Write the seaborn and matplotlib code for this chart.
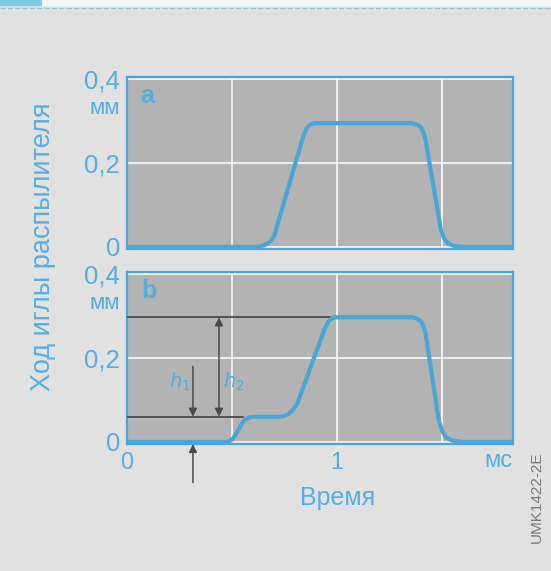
import numpy as np
import matplotlib
matplotlib.use("Agg")
import matplotlib.pyplot as plt
from matplotlib.lines import Line2D
import seaborn as sns

sns.set_theme(style="darkgrid")
plt.rcParams['font.family'] = ['Liberation Sans', 'DejaVu Sans']

BLUE = '#4aa6d6'
TXT = '#55afdc'
DARK = '#4a4a4a'

# curve a: normal injection, curve b: with pre-lift
time_a = [0, 0.60, 0.63, 0.655, 0.68, 0.70, 0.84, 0.855, 0.87, 0.89, 1.35, 1.38, 1.40, 1.41,
          1.42, 1.495, 1.51, 1.53, 1.56, 1.61, 1.84]
lift_a = [0, 0, 0.001, 0.004, 0.012, 0.025, 0.265, 0.282, 0.291, 0.295, 0.295, 0.292, 0.285,
          0.275, 0.26, 0.04, 0.02, 0.008, 0.002, 0, 0]

time_b = [0, 0.47, 0.49, 0.505, 0.52, 0.55, 0.565, 0.58, 0.60, 0.73, 0.75, 0.77, 0.79, 0.81,
          0.94, 0.955, 0.97, 0.99, 1.36, 1.38, 1.40, 1.41, 1.42, 1.485, 1.50, 1.52, 1.55, 1.60, 1.84]
lift_b = [0, 0, 0.002, 0.008, 0.02, 0.046, 0.054, 0.058, 0.06, 0.06, 0.062, 0.067, 0.076, 0.09,
          0.268, 0.284, 0.293, 0.297, 0.297, 0.294, 0.287, 0.278, 0.264, 0.05, 0.027, 0.01,
          0.003, 0, 0]

h1_level = 0.06
h2_level = 0.297
start_t = 0.314
h2_t = 0.438

yticks = [0, 0.2, 0.4]
ylabels = ['0', '0,2', '0,4']

fig = plt.figure(figsize=(5.51, 5.71), dpi=100, facecolor='#e1e1e1')
ax_a = fig.add_axes([0.2305, 0.5639, 0.7005, 0.3012])
ax_b = fig.add_axes([0.2305, 0.2224, 0.7005, 0.3012])

for ax, t, h in [(ax_a, time_a, lift_a), (ax_b, time_b, lift_b)]:
    ax.set_facecolor('#b3b3b3')
    sns.lineplot(x=t, y=h, ax=ax, color=BLUE, linewidth=3, estimator=None,
                 solid_joinstyle='round', solid_capstyle='round', zorder=5)
    ax.set_xlim(0, 1.838)
    ax.set_ylim(-0.005, 0.405)
    ax.set_xticks([0, 0.5, 1, 1.5])
    ax.set_yticks(yticks)
    ax.set_yticklabels(ylabels, color=TXT, fontsize=18.5)
    ax.tick_params(axis='y', length=0, pad=5)
    ax.tick_params(axis='x', length=0, pad=6)
    ax.grid(color='white', linewidth=1.1)
    for s in ax.spines.values():
        s.set_visible(True)
        s.set_color(BLUE)
        s.set_linewidth(1.6)
    ax.text(-0.033, 0.331, 'мм', transform=ax.transData, ha='right', va='center',
            color=TXT, fontsize=16)

ax_a.set_xticklabels([])
ax_b.set_xticklabels(['0', '', '1', ''], color=TXT, fontsize=17)
ax_a.text(0.065, 0.36, 'a', color=TXT, fontsize=18, fontweight='bold', va='center')
ax_b.text(0.07, 0.36, 'b', color=TXT, fontsize=18, fontweight='bold', va='center')

# reference levels and arrows on panel b
ax_b.plot([0, 0.967], [h2_level, h2_level], color=DARK, lw=1.3, zorder=3)
ax_b.plot([0, 0.55], [h1_level, h1_level], color=DARK, lw=1.3, zorder=3)
arw = dict(arrowstyle='-|>', color=DARK, lw=1.1, mutation_scale=12, shrinkA=0, shrinkB=0)
ax_b.annotate('', xy=(start_t, h1_level), xytext=(start_t, 0.18), arrowprops=arw)
ax_b.annotate('', xy=(h2_t, h1_level), xytext=(h2_t, h2_level),
              arrowprops=dict(arw, arrowstyle='<|-|>'))
ax_b.annotate('', xy=(start_t, -0.005), xytext=(start_t, -0.097), arrowprops=arw,
              annotation_clip=False)
ax_b.text(start_t - 0.01, 0.143, '$h_1$', color=TXT, fontsize=14, ha='right', va='center')
ax_b.text(h2_t + 0.02, 0.143, '$h_2$', color=TXT, fontsize=14, ha='left', va='center')

fig.text(0.904, 0.193, 'мс', color=TXT, fontsize=17, ha='center', va='center')
fig.text(0.612, 0.128, 'Время', color=TXT, fontsize=18, ha='center', va='center')
fig.text(0.078, 0.567, 'Ход иглы распылителя', color=TXT, fontsize=19.5, rotation=90,
         ha='center', va='center')
fig.text(0.975, 0.13, 'UMK1422-2E', color='#7a7a7a', fontsize=11, rotation=90,
         ha='center', va='center')

# page decoration at the top
fig.add_artist(Line2D([0, 1], [0.986, 0.986], color='#8cc8de', lw=1, ls='--'))
fig.patches.append(plt.Rectangle((0, 0.991), 1, 0.009, transform=fig.transFigure,
                                 color='#f4f6f6', zorder=0))
fig.patches.append(plt.Rectangle((0, 0.991), 0.075, 0.009, transform=fig.transFigure,
                                 color='#7fcbe6', zorder=1))

fig.savefig('out.png', dpi=100, facecolor=fig.get_facecolor())
